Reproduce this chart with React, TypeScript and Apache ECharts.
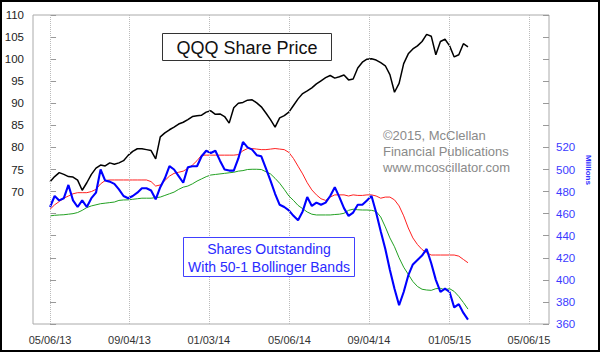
import React, { useEffect, useRef } from "react";
import * as echarts from "echarts";

// x positions: days counted from 05/06/13
const xTickDays = [0, 121, 242, 365, 486, 609, 730];
const xTickLabels = ["05/06/13", "09/04/13", "01/03/14", "05/06/14", "09/04/14", "01/05/15", "05/06/15"];
const daysPerPoint = 7; // weekly readings

const qqqPrice = [
  72.2, 73.4, 74.3, 73.9, 73.4, 73.3, 72.6, 70.3, 72.0, 73.9,
  75.3, 76.0, 75.8, 76.5, 76.2, 76.5, 77.0, 78.2, 79.1, 79.7,
  79.7, 79.5, 79.3, 77.4, 82.4, 83.3, 84.0, 84.6, 85.3, 85.7,
  86.3, 87.0, 87.2, 87.3, 88.0, 88.3, 87.5, 87.6, 87.0, 85.5,
  89.0, 90.0, 90.2, 90.7, 90.8, 90.1, 89.2, 87.8, 86.3, 84.6,
  86.7, 87.2, 88.0, 89.5, 91.0, 92.2, 92.8, 93.5, 94.4, 95.1,
  95.8, 96.3, 95.7, 96.0, 96.4, 95.3, 95.5, 98.0, 99.3, 100.0,
  100.1, 99.8, 99.2, 98.5, 96.5, 92.5, 94.5, 99.0, 101.2, 102.3,
  103.0, 104.0, 105.6, 105.2, 101.0, 104.0, 104.5, 103.0, 100.5, 101.0,
  103.5, 102.8,
];

const sharesOut = [
  466, 476, 472, 474, 486, 472, 466, 472, 466, 474,
  479, 500, 490, 489, 487, 482, 476, 474, 476, 479,
  483, 483, 481, 473, 484, 492, 503, 500, 494, 488,
  502, 503, 503, 512, 517, 515, 517, 508, 500, 499,
  499, 510, 525, 520, 518, 513, 512, 501, 490, 478,
  468, 466, 463, 458, 454, 462, 475, 467, 470, 468,
  470, 476, 484, 475, 465, 458, 461, 468, 468, 472,
  476, 461, 444, 428, 409, 392, 377, 389, 404, 414,
  418, 422, 428, 415, 400, 389, 392, 389, 375, 378,
  370, 364,
];

const upperBand = [
  464, 468, 471, 474, 476, 478, 479, 479, 479, 480,
  482, 487, 490, 490.5, 490.5, 490.5, 490.5, 490.5, 490.5, 490.5,
  490.5, 490.5, 489, 485, 486, 490, 494, 496.5, 497.5, 498.5,
  501, 504, 508, 513, 513, 513, 513, 513, 513, 513,
  513, 513.5, 517, 519, 519, 518.5, 518, 518, 518.5, 519,
  518.5, 518, 515.5, 510, 503, 496, 488, 481.5, 477, 473.5,
  472, 475, 477, 477, 477, 476, 477, 476.5, 476.5, 477,
  477, 476, 474, 475, 475, 472.5, 467, 458, 447, 438,
  432, 427.5, 424.5, 422.5, 422.5, 422.5, 422.5, 422.5, 422.5, 421.5,
  418.5, 415.5,
];

const lowerBand = [
  458, 458.5, 458.8, 459, 459.5, 460, 461, 463, 465.5, 467,
  468, 469, 469.5, 470, 470.5, 472, 472.4, 472.5, 473, 473.5,
  474, 474, 474, 474.5, 475, 476.5, 478, 479.5, 482, 484,
  485, 487, 489.5, 491.5, 493.5, 495, 495.5, 496, 496.5, 497,
  497.5, 498.5, 499, 500, 500.2, 500.2, 500, 498, 496, 492,
  487.5, 482, 476, 472, 467.5, 464.5, 461.5, 459.5, 458.8, 458.8,
  458.8, 458.8, 459.2, 459.5, 460.3, 463, 464, 463.5, 463.3, 463.3,
  463, 462, 457, 448, 438, 430, 420, 411.5, 405, 398.5,
  394, 391.5, 390.8, 390.5, 392, 392.3, 391, 392, 389.5, 385,
  379.5, 373.5,
];

const FONT = "Arial, 'Liberation Sans', sans-serif";
const toPoints = (arr: number[]) => arr.map((v, i) => [i * daysPerPoint, v]);

export default function App() {
  const ref = useRef<HTMLDivElement>(null);
  useEffect(() => {
    if (!ref.current) return;
    const chart = echarts.init(ref.current, null, { renderer: "svg" });
    chart.setOption({
      animation: false,
      backgroundColor: "#ffffff",
      textStyle: { fontFamily: FONT },
      grid: {
        left: 33,
        right: 51,
        top: 15,
        bottom: 28,
        show: true,
        borderColor: "#aaaaaa",
        borderWidth: 1,
        backgroundColor: "transparent",
      },
      xAxis: {
        type: "value",
        min: -26,
        max: 760.5,
        axisLine: { show: false },
        axisTick: { show: false },
        splitLine: { show: false },
        axisLabel: {
          customValues: xTickDays,
          formatter: (v: number) => {
            const k = xTickDays.indexOf(v);
            return k >= 0 ? xTickLabels[k] : "";
          },
          color: "#333333",
          fontSize: 11,
          fontFamily: FONT,
          margin: 10,
        },
      },
      yAxis: [
        {
          type: "value",
          position: "left",
          min: 40,
          max: 110,
          interval: 5,
          axisLine: { show: false },
          axisTick: { show: true, inside: true, length: 6, lineStyle: { color: "#999999" } },
          splitLine: { show: false },
          axisLabel: {
            formatter: (v: number) => (v >= 70 ? String(v) : ""),
            color: "#222222",
            fontSize: 11.5,
            fontFamily: FONT,
            margin: 9,
          },
        },
        {
          type: "value",
          position: "right",
          min: 360,
          max: 640,
          interval: 20,
          axisLine: { show: false },
          axisTick: { show: true, inside: true, length: 6, lineStyle: { color: "#999999" } },
          splitLine: { show: false },
          axisLabel: {
            formatter: (v: number) => (v <= 520 ? String(v) : ""),
            color: "#3a3aff",
            fontSize: 11.5,
            fontFamily: FONT,
            margin: 7,
          },
        },
      ],
      series: [
        {
          name: "grid",
          type: "line",
          yAxisIndex: 0,
          data: [],
          markLine: {
            silent: true,
            symbol: ["none", "none"],
            label: { show: false },
            lineStyle: { color: "#bbbbbb", type: "dotted", width: 1 },
            data: xTickDays.map((d) => ({ xAxis: d })),
          },
        },
        {
          name: "Upper band",
          type: "line",
          yAxisIndex: 1,
          data: toPoints(upperBand),
          showSymbol: false,
          symbol: "none",
          lineStyle: { color: "#ff2020", width: 1 },
        },
        {
          name: "Lower band",
          type: "line",
          yAxisIndex: 1,
          data: toPoints(lowerBand),
          showSymbol: false,
          symbol: "none",
          lineStyle: { color: "#22a022", width: 1 },
        },
        {
          name: "Shares Outstanding",
          type: "line",
          yAxisIndex: 1,
          data: toPoints(sharesOut),
          showSymbol: false,
          symbol: "none",
          lineStyle: { color: "#0000ff", width: 2.1 },
        },
        {
          name: "QQQ",
          type: "line",
          yAxisIndex: 0,
          data: toPoints(qqqPrice),
          showSymbol: false,
          symbol: "none",
          lineStyle: { color: "#000000", width: 1.5 },
        },
      ],
      graphic: [
        {
          type: "rect",
          z: 100,
          shape: { x: 1, y: 1, width: 598, height: 350 },
          style: { fill: "none", stroke: "#000000", lineWidth: 2 },
        },
        {
          type: "rect",
          z: 100,
          shape: { x: 162.5, y: 33.5, width: 169, height: 27 },
          style: { fill: "#ffffff", stroke: "#333333", lineWidth: 1 },
        },
        {
          type: "text",
          z: 101,
          x: 247,
          y: 47.5,
          style: {
            text: "QQQ Share Price",
            fill: "#111111",
            fontSize: 18,
            fontFamily: FONT,
            align: "center",
            verticalAlign: "middle",
          },
        },
        {
          type: "rect",
          z: 100,
          shape: { x: 183.5, y: 237.5, width: 171, height: 39 },
          style: { fill: "#ffffff", stroke: "#4040ff", lineWidth: 1 },
        },
        {
          type: "text",
          z: 101,
          x: 269,
          y: 257.5,
          style: {
            text: "Shares Outstanding\nWith 50-1 Bollinger Bands",
            fill: "#2a2aff",
            fontSize: 14,
            lineHeight: 18,
            fontFamily: FONT,
            align: "center",
            verticalAlign: "middle",
          },
        },
        {
          type: "text",
          z: 101,
          x: 383,
          y: 151,
          style: {
            text: "\u00a92015, McClellan\nFinancial Publications\nwww.mcoscillator.com",
            fill: "#8a8a8a",
            fontSize: 13,
            lineHeight: 16,
            fontFamily: FONT,
            align: "left",
            verticalAlign: "middle",
          },
        },
        {
          type: "text",
          z: 101,
          x: 588,
          y: 170,
          rotation: -Math.PI / 2,
          style: {
            text: "Millions",
            fill: "#3030ff",
            fontSize: 8,
            fontWeight: "bold",
            fontFamily: FONT,
            align: "center",
            verticalAlign: "middle",
          },
        },
      ],
    });
    return () => chart.dispose();
  }, []);
  return (
    <div
      ref={ref}
      style={{ position: "absolute", left: 0, top: 0, width: 600, height: 352 }}
    />
  );
}
